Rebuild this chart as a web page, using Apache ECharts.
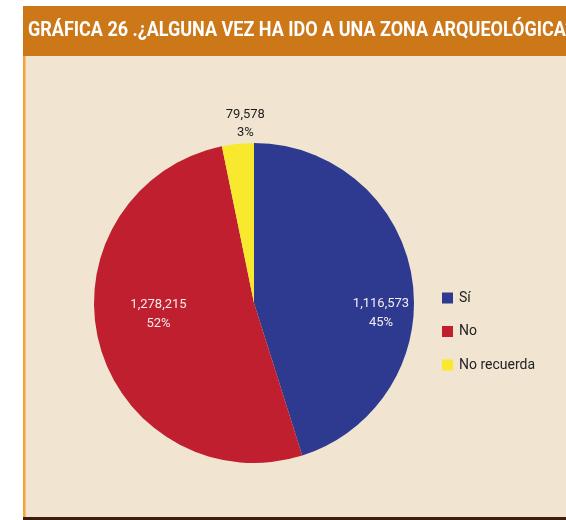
<!DOCTYPE html>
<html>
<head>
<meta charset="utf-8">
<script src="https://cdn.jsdelivr.net/npm/echarts@6/dist/echarts.min.js"></script>
<style>
  html, body { margin: 0; padding: 0; background: #ffffff; }
  #chart { width: 566px; height: 520px; }
</style>
</head>
<body>
<div id="chart"></div>
<script>
// Respuestas y número de personas
const categories = ['Sí', 'No', 'No recuerda'];
const values = [1116573, 1278215, 79578];
const percents = ['45%', '52%', '3%'];
const colors = ['#2d3a90', '#c01f2f', '#f8e92f'];

const titleText = 'GRÁFICA 26 .¿ALGUNA VEZ HA IDO A UNA ZONA ARQUEOLÓGICA?';
const narrow = "Roboto, 'Liberation Sans', sans-serif";

const fmt = n => n.toLocaleString('en-US');

const cx = 254, cy = 303, R = 160;

// Small nudges applied to each slice label after layout
const labelNudge = [[7, 29], [22, -19], [10, 5]];

const chart = echarts.init(document.getElementById('chart'), null, { renderer: 'canvas' });

// Base slices
const sliceData = categories.map((c, i) => ({
  name: c, value: values[i], itemStyle: { color: colors[i] }
}));

// Labels for large slices, drawn inside the pie
const innerLabelData = categories.map((c, i) => ({
  name: c, value: values[i],
  label: { show: i < 2 }
}));

// Label for the small slice, drawn in a ring just outside the pie
const outerLabelData = categories.map((c, i) => ({
  name: c, value: values[i],
  label: { show: i === 2 }
}));

const labelFormatter = p => fmt(values[p.dataIndex]) + '\n' + percents[p.dataIndex];
const nudge = p => ({ dx: labelNudge[p.dataIndex][0], dy: labelNudge[p.dataIndex][1] });

chart.setOption({
  animation: false,
  backgroundColor: 'transparent',
  graphic: [
    { type: 'rect', shape: { x: 23, y: 6, width: 543, height: 50 }, style: { fill: '#cc7718' }, z: 0 },
    { type: 'rect', shape: { x: 23, y: 56, width: 543, height: 461 }, style: { fill: '#f1e5d2' }, z: 0 },
    { type: 'rect', shape: { x: 23, y: 56, width: 2.5, height: 461 }, style: { fill: '#f7a236' }, z: 1 },
    { type: 'rect', shape: { x: 23, y: 517, width: 543, height: 3 }, style: { fill: '#3d1e0c' }, z: 1 },
    {
      type: 'text', x: 28, y: 31, z: 2,
      scaleX: 0.9, originX: 0, originY: 0,
      style: {
        text: titleText, fill: '#ffffff',
        font: "bold 20px " + narrow,
        verticalAlign: 'middle'
      }
    }
  ],
  legend: {
    orient: 'vertical',
    left: 442, top: 291,
    padding: 0,
    itemWidth: 11, itemHeight: 11,
    itemGap: 19.5,
    icon: 'rect',
    data: categories,
    textStyle: { fontFamily: narrow, fontSize: 14, color: '#222222', padding: [0, 0, 0, 1] },
    selectedMode: false
  },
  series: [
    {
      type: 'pie',
      center: [cx, cy], radius: [0, R],
      startAngle: 90, clockwise: true,
      label: { show: false }, labelLine: { show: false },
      itemStyle: { borderWidth: 0 },
      emphasis: { disabled: true },
      data: sliceData, z: 2
    },
    {
      type: 'pie',
      center: [cx, cy], radius: [R * 0.48, R],
      startAngle: 90, clockwise: true,
      avoidLabelOverlap: false,
      itemStyle: { color: 'rgba(0,0,0,0)' },
      label: {
        show: true, position: 'inside',
        formatter: labelFormatter,
        color: '#f3ecec', fontFamily: narrow, fontSize: 13, lineHeight: 19
      },
      labelLayout: nudge,
      labelLine: { show: false },
      emphasis: { disabled: true }, silent: true,
      legendHoverLink: false,
      data: innerLabelData, z: 3
    },
    {
      type: 'pie',
      center: [cx, cy], radius: [R, R + 44],
      startAngle: 90, clockwise: true,
      avoidLabelOverlap: false,
      itemStyle: { color: 'rgba(0,0,0,0)' },
      label: {
        show: true, position: 'inside',
        formatter: labelFormatter,
        color: '#1e1e1e', fontFamily: narrow, fontSize: 13, lineHeight: 18
      },
      labelLayout: nudge,
      labelLine: { show: false },
      emphasis: { disabled: true }, silent: true,
      legendHoverLink: false,
      data: outerLabelData, z: 3
    }
  ]
});
</script>
</body>
</html>
